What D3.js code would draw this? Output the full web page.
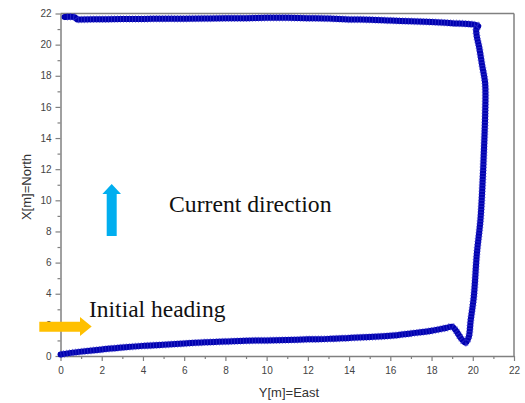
<!DOCTYPE html>
<html><head><meta charset="utf-8">
<script src="https://cdn.jsdelivr.net/npm/d3@7"></script>
<style>body{margin:0;background:#fff}svg{display:block}</style>
</head><body>
<script>
// Trajectory: [East (Y[m]), North (X[m])]
const east = [0,0.5,1,2,3,4,5,6,7,8,9,10,11,12,13,14,15,16,17,18,18.7,19.0,19.2,19.45,19.65,19.8,19.9,20.05,20.2,20.37,20.47,20.55,20.6,20.6,20.45,20.3,20.2,20.17,20.27,20.0,19,18,17,16,15,14,13,12,11,10,9,8,7,6,5,4,3,2,1,0.8,0.7,0.2];
const north = [0.1,0.2,0.28,0.42,0.55,0.65,0.72,0.8,0.88,0.93,0.98,1.0,1.03,1.07,1.1,1.16,1.22,1.3,1.45,1.62,1.8,1.88,1.6,1.1,0.85,1.2,2.3,3.8,6.6,8.7,11,13.5,15.5,17.5,18.7,19.9,20.5,21.0,21.2,21.3,21.38,21.45,21.5,21.55,21.6,21.62,21.68,21.7,21.72,21.72,21.7,21.7,21.68,21.67,21.67,21.65,21.65,21.63,21.62,21.62,21.76,21.78];
const xTicks = [0,2,4,6,8,10,12,14,16,18,20,22];
const yTicks = [0,2,4,6,8,10,12,14,16,18,20,22];
const minorTicks = [1,3,5,7,9,11,13,15,17,19,21];
const xLabel = "Y[m]=East";
const yLabel = "X[m]=North";
const noteCurrent = "Current direction";
const noteInitial = "Initial heading";

const W = 525, H = 403;
const svg = d3.select("body").append("svg").attr("width", W).attr("height", H);
const x = d3.scaleLinear().domain([0,22]).range([60.5,514]);
const y = d3.scaleLinear().domain([0,22]).range([356,13.5]);
const axisColor = "#808080", textColor = "#444";

// frame top/right
svg.append("line").attr("x1",x(0)).attr("x2",x(22)).attr("y1",y(22)).attr("y2",y(22)).attr("stroke",axisColor).attr("stroke-width",1.5);
svg.append("line").attr("x1",x(22)).attr("x2",x(22)).attr("y1",y(0)).attr("y2",y(22)).attr("stroke",axisColor).attr("stroke-width",1.5);

function styleAxis(g){
  g.select(".domain").attr("stroke",axisColor).attr("stroke-width",1.5);
  g.selectAll(".tick line").attr("stroke",axisColor).attr("stroke-width",1.2);
  g.selectAll(".tick text").attr("fill",textColor).attr("font-family","Liberation Sans, Arial, sans-serif").attr("font-size",10);
}
// minor ticks
svg.append("g").attr("transform",`translate(0,${y(0)})`)
  .call(d3.axisBottom(x).tickValues(minorTicks).tickSize(3).tickFormat("").tickSizeOuter(0))
  .call(g=>{g.select(".domain").remove(); g.selectAll(".tick line").attr("stroke",axisColor).attr("stroke-width",1.2);});
svg.append("g").attr("transform",`translate(${x(0)},0)`)
  .call(d3.axisLeft(y).tickValues(minorTicks).tickSize(3).tickFormat("").tickSizeOuter(0))
  .call(g=>{g.select(".domain").remove(); g.selectAll(".tick line").attr("stroke",axisColor).attr("stroke-width",1.2);});

svg.append("g").attr("transform",`translate(0,${y(0)})`)
  .call(d3.axisBottom(x).tickValues(xTicks).tickSize(5).tickSizeOuter(0).tickPadding(6))
  .call(styleAxis);
svg.append("g").attr("transform",`translate(${x(0)},0)`)
  .call(d3.axisLeft(y).tickValues(yTicks).tickSize(5).tickSizeOuter(0).tickPadding(4))
  .call(styleAxis);

// axis labels
svg.append("text").attr("x",289).attr("y",397).attr("text-anchor","middle")
  .attr("font-family","Liberation Sans, Arial, sans-serif").attr("font-size",13).attr("fill","#333").text(xLabel);
svg.append("text").attr("transform","translate(31,187) rotate(-90)").attr("text-anchor","middle")
  .attr("font-family","Liberation Sans, Arial, sans-serif").attr("font-size",13).attr("fill","#333").text(yLabel);

// trajectory
const pts = east.map((e,i)=>[e,north[i]]);
const line = d3.line().x(d=>x(d[0])).y(d=>y(d[1])).curve(d3.curveCatmullRom.alpha(0.5));
svg.append("path").attr("d",line(pts)).attr("fill","none").attr("stroke","#0000b0")
  .attr("stroke-width",6).attr("stroke-linejoin","round").attr("stroke-linecap","round");
svg.append("path").attr("d",line(pts)).attr("fill","none").attr("stroke","#3a3ad0")
  .attr("stroke-width",7.5).attr("stroke-dasharray","1 2").attr("opacity",0.6);

// arrows
svg.append("path").attr("d","M106.7,236 L116.7,236 L116.7,194 L121,194 L111.7,184 L102.4,194 L106.7,194 Z").attr("fill","#00aeef");
svg.append("path").attr("d","M39.3,321.7 L80,321.7 L80,317 L91.7,326.5 L80,336 L80,331.7 L39.3,331.7 Z").attr("fill","#ffc000");

svg.append("text").attr("x",169).attr("y",211.7).attr("font-family","Liberation Serif, Times New Roman, serif")
  .attr("font-size",23.7).attr("fill","#111").text(noteCurrent);
svg.append("text").attr("x",89).attr("y",316.7).attr("font-family","Liberation Serif, Times New Roman, serif")
  .attr("font-size",23.5).attr("fill","#111").text(noteInitial);
</script>
</body></html>
